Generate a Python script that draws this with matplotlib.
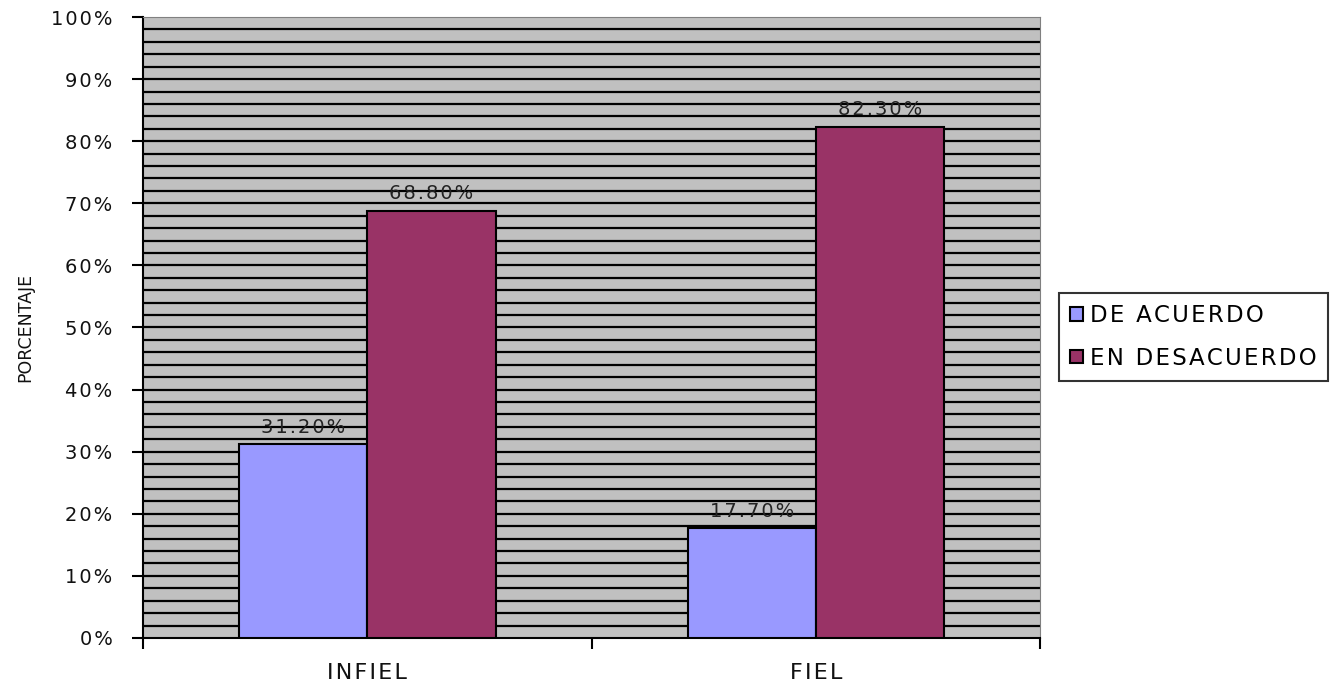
import numpy as np
import matplotlib.pyplot as plt
from matplotlib.ticker import FixedLocator

plt.rcParams['font.family'] = ['DejaVu Sans']

categories = ['INFIEL', 'FIEL']
series = ['DE ACUERDO', 'EN DESACUERDO']
de_acuerdo = [31.2, 17.7]
en_desacuerdo = [68.8, 82.3]
colors = ['#9999FF', '#993366']
yticks = [0, 10, 20, 30, 40, 50, 60, 70, 80, 90, 100]

HS = '\u200a'


def spaced(s):
    # a touch of letter tracking
    return HS.join(s)


fig = plt.figure(figsize=(13.3, 6.84), dpi=100)
ax = fig.add_axes([0.1075, 0.0673, 0.782 - 0.1075, 0.9751 - 0.0673])
ax.set_facecolor('#C0C0C0')

x = np.arange(len(categories))
w = 0.286
for i, (vals, name) in enumerate(zip([de_acuerdo, en_desacuerdo], series)):
    pos = x + (i - 0.5) * w
    bars = ax.bar(pos, vals, w, color=colors[i], edgecolor='black', linewidth=1.5,
                  label=spaced(name), zorder=3)
    for b, v in zip(bars, vals):
        ax.text(b.get_x() + b.get_width() / 2, v + 1.2, spaced(f'{v:.2f}%'),
                ha='center', va='bottom', fontsize=14, color='#222222', zorder=4)

# horizontal lines every 2%
for yy in np.arange(2, 100, 2):
    ax.axhline(yy, color='black', linewidth=1.6, zorder=1)

ax.set_xlim(-0.5, 1.5)
ax.set_ylim(0, 100)
ax.yaxis.set_major_locator(FixedLocator(yticks))
ax.set_yticklabels([spaced(f'{t}%') for t in yticks], fontsize=14, color='#111111')
ax.xaxis.set_major_locator(FixedLocator([-0.5, 0.5, 1.5]))
ax.xaxis.set_minor_locator(FixedLocator(x))
ax.set_xticklabels([])
ax.set_xticklabels([spaced(c) for c in categories], minor=True, fontsize=16,
                   color='#111111')
ax.tick_params(axis='x', which='minor', length=0, pad=18)
ax.tick_params(axis='x', which='major', length=8, width=1.5, direction='out')
ax.tick_params(axis='y', length=8, width=1.5, direction='out', pad=14)

ax.spines['left'].set_linewidth(1.5)
ax.spines['bottom'].set_linewidth(1.5)
ax.spines['top'].set_color('#808080')
ax.spines['right'].set_color('#808080')

ax.set_ylabel('PORCENTAJE', fontsize=12.5, labelpad=12, color='#111111')

leg = ax.legend(loc='center left', bbox_to_anchor=(1.021, 0.485), fontsize=16.5,
                frameon=True, fancybox=False, edgecolor='black', handlelength=0.55,
                handleheight=0.55, handletextpad=0.3, borderpad=0.5, labelspacing=0.85,
                borderaxespad=0)
leg.get_frame().set_linewidth(1.5)

fig.savefig('out.png', dpi=100)
